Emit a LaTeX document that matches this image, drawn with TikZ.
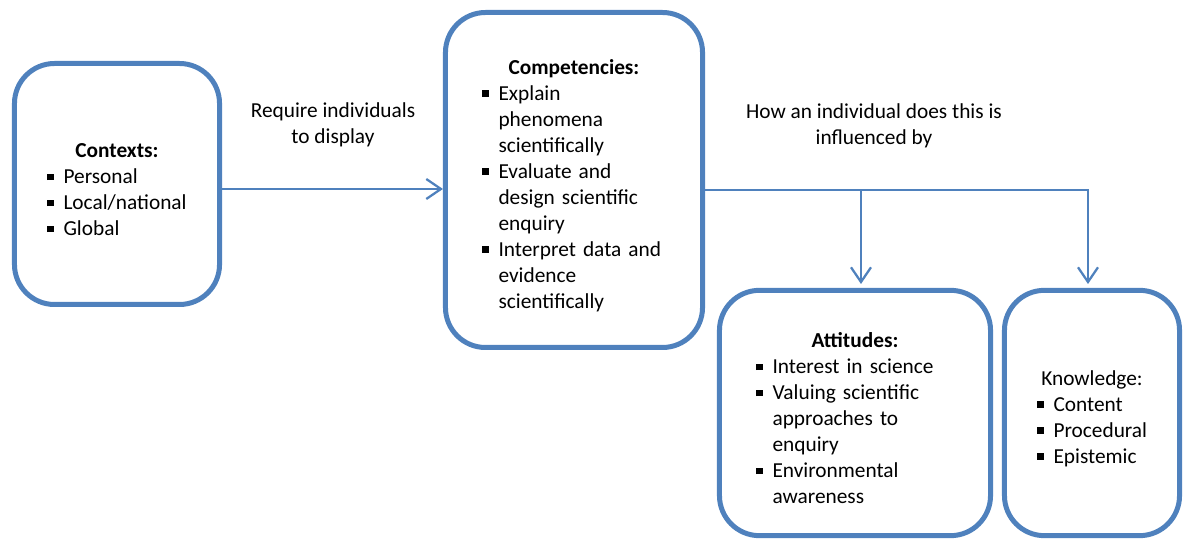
\documentclass[tikz,border=0pt]{standalone}
\usepackage{fontspec}
\setmainfont{Carlito}
\usetikzlibrary{arrows.meta}

\definecolor{boxblue}{HTML}{4F81BD}
\hyphenpenalty=10000
\setlength{\parskip}{0pt}

% square bullet and a hanging list entry
\newcommand{\sqb}{\rule[2.8pt]{5pt}{5pt}}
\newcommand{\entry}[1]{\hangindent=12.4pt\hangafter=1\noindent\makebox[12.4pt][l]{\sqb}#1\par}
\newcommand{\heading}[1]{\noindent{\centering\rule{0pt}{19.5pt}#1\par}}

\begin{document}
\begin{tikzpicture}[x=0.75pt, y=-0.75pt,
        >={Straight Barb[length=11pt,width=15pt]},
        box/.style={draw=boxblue, line width=3.75pt, rounded corners=30pt, align=left, inner ysep=0pt,
            font=\fontsize{16}{19.5}\selectfont},
        link/.style={draw=boxblue, line width=1.7pt},
        note/.style={align=center, font=\fontsize{16}{19.5}\selectfont}]

    \useasboundingbox (0,0) rectangle (1183,541);

    % Boxes
    \node[box, minimum width=153.75pt, minimum height=180.75pt, text width=105pt, inner xsep=24.4pt] (ctx) at (117,184) {
        \heading{\textbf{Contexts:}}
        \entry{Personal}
        \entry{Local/national}
        \entry{Global}};
    \node[box, minimum width=192.75pt, minimum height=251.25pt, text width=138pt, inner xsep=27.4pt] (comp) at (574,180) {
        \heading{\textbf{Competencies:}}
        \entry{Explain\newline phenomena\newline scientifically}
        \entry{Evaluate and\newline design scientific\newline enquiry}
        \entry{Interpret data and\newline evidence\newline scientifically}};
    \node[box, minimum width=203.25pt, minimum height=184pt, text width=148.5pt, inner xsep=27.4pt] (att) at (855,413) {
        \heading{\textbf{Attitudes:}}
        \entry{Interest in science}
        \entry{Valuing scientific\newline approaches to\newline enquiry}
        \entry{Environmental\newline awareness}};
    \node[box, minimum width=131.25pt, minimum height=184pt, text width=82.5pt, inner xsep=24.4pt] (know) at (1092,413) {
        \heading{Knowledge:}
        \entry{Content}
        \entry{Procedural}
        \entry{Epistemic}};

    % Labels
    \node[note] (req) at (333,125) {Require individuals\\to display};
    \node[note] (how) at (874,126) {How an individual does this is\\influenced by};

    % Connectors
    \coordinate (in) at ([yshift=-3.75pt]ctx.east);
    \coordinate (out) at ([yshift=-7.5pt]comp.east);
    \coordinate (split) at (861,190);
    \coordinate (attin) at (861,284);
    \coordinate (knowin) at (1088,284);

    \draw[link, ->] (in) -- (in -| comp.west);
    \draw[link, ->] (out) -| (knowin);
    \draw[link, ->] (split) -- (attin);
\end{tikzpicture}
\end{document}
